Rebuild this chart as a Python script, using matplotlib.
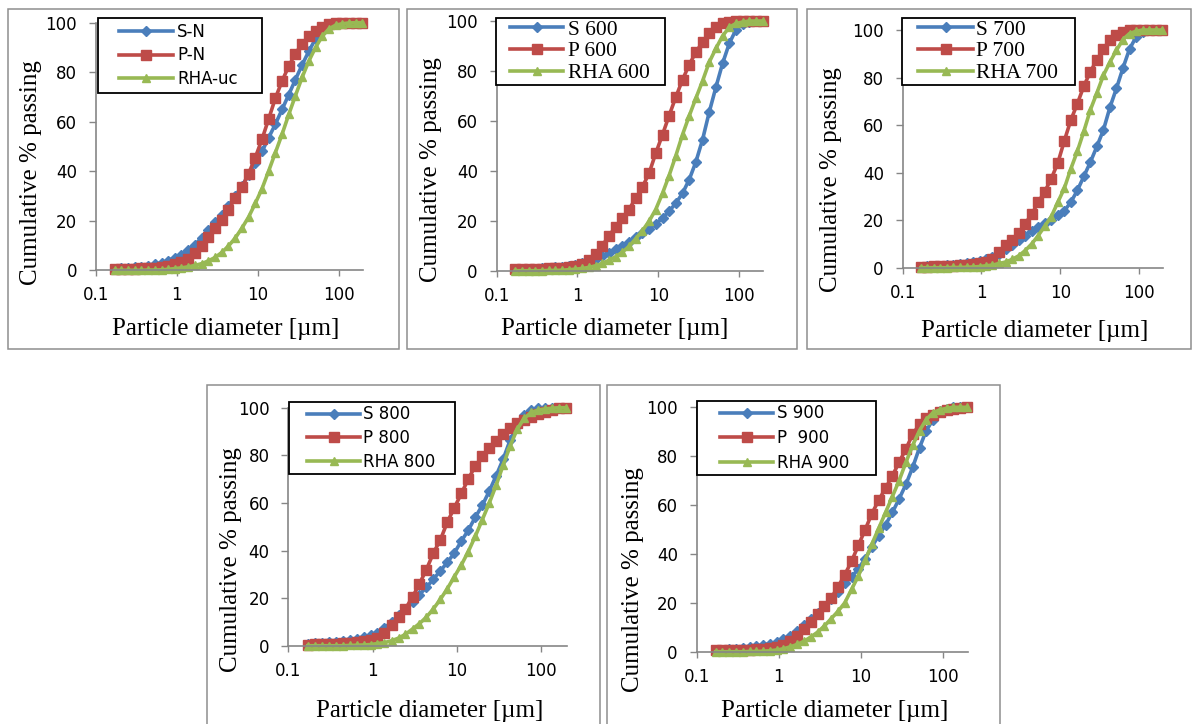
import numpy as np
import matplotlib
matplotlib.use("Agg")
import matplotlib.pyplot as plt
from matplotlib.patches import Rectangle
from matplotlib.legend_handler import HandlerLine2D
from matplotlib.ticker import NullLocator

# ------------------------------------------------------------------ data
diameter_um = [0.170, 0.206, 0.249, 0.301, 0.364, 0.441, 0.534, 0.646, 0.781, 0.945,
               1.14, 1.38, 1.68, 2.03, 2.45, 2.97, 3.59, 4.34, 5.26, 6.36,
               7.70, 9.31, 11.3, 13.6, 16.5, 20.0, 24.2, 29.2, 35.4, 42.8,
               51.8, 62.6, 75.8, 91.7, 111, 134, 163, 197]

s_n = [0.7, 0.8, 1.0, 1.2, 1.5, 1.9, 2.4, 3.0, 3.9, 5.1,
       6.3, 8.2, 10.4, 13.2, 16.2, 19.4, 22.3, 26.0, 30.0, 34.0,
       38.5, 43.2, 48.0, 53.5, 59.0, 65.0, 71.0, 77.0, 83.0, 88.5,
       93.5, 97.0, 98.9, 99.7, 100, 100, 100, 100]
p_n = [0.4, 0.5, 0.6, 0.7, 0.8, 0.9, 1.1, 1.4, 1.9, 2.6,
       3.4, 4.7, 7.0, 10.0, 13.5, 17.0, 20.5, 24.5, 29.0, 33.5,
       39.0, 45.5, 53.0, 61.0, 69.5, 76.5, 82.5, 87.5, 91.5, 94.5,
       96.5, 98.2, 99.3, 99.8, 100, 100, 100, 100]
rha_uc = [0, 0, 0, 0, 0, 0.1, 0.1, 0.2, 0.4, 0.7,
          1.0, 1.4, 2.0, 2.7, 3.8, 5.2, 7.2, 9.8, 13.0, 17.0,
          21.5, 27.0, 33.0, 40.0, 47.5, 55.0, 63.0, 70.5, 78.0, 84.5,
          90.0, 94.5, 97.5, 99.0, 99.6, 99.9, 100, 100]

s_600 = [0.5, 0.6, 0.7, 0.8, 0.9, 1.1, 1.3, 1.6, 2.0, 2.4,
         3.0, 3.7, 4.7, 5.9, 7.2, 8.6, 10.0, 11.6, 13.3, 15.0,
         16.8, 18.8, 21.0, 23.8, 27.0, 31.0, 36.5, 43.5, 52.5, 63.5,
         73.5, 83.0, 91.0, 96.5, 98.8, 99.6, 100, 100]
p_600 = [0.5, 0.6, 0.6, 0.7, 0.8, 0.9, 1.0, 1.2, 1.5, 2.0,
         2.8, 4.3, 6.5, 10.0, 14.0, 17.5, 21.0, 24.5, 29.0, 33.5,
         39.0, 47.0, 54.5, 62.0, 69.5, 76.5, 82.5, 87.5, 91.5, 95.0,
         97.5, 99.0, 99.7, 100, 100, 100, 100, 100]
rha_600 = [0, 0, 0, 0, 0, 0.1, 0.1, 0.2, 0.4, 0.6,
           0.9, 1.3, 2.0, 2.9, 4.2, 5.6, 7.4, 9.7, 12.8, 16.0,
           19.8, 24.5, 31.0, 38.0, 46.0, 54.5, 62.0, 69.0, 76.0, 83.5,
           89.0, 94.0, 97.5, 99.0, 99.6, 100, 100, 100]

s_700 = [0.5, 0.6, 0.7, 0.8, 1.0, 1.2, 1.5, 1.9, 2.3, 2.9,
         3.5, 4.6, 5.9, 7.9, 9.5, 11.5, 13.5, 15.5, 17.0, 18.7,
         20.2, 22.0, 24.0, 27.5, 32.5, 38.5, 44.5, 51.0, 58.0, 67.5,
         75.5, 84.0, 92.0, 97.0, 99.3, 100, 100, 100]
p_700 = [0.4, 0.5, 0.6, 0.7, 0.8, 0.9, 1.0, 1.2, 1.5, 1.9,
         2.5, 3.8, 6.5, 9.5, 11.8, 14.5, 18.5, 22.5, 27.5, 32.0,
         37.5, 44.0, 53.5, 62.0, 69.0, 76.5, 82.5, 87.5, 92.0, 95.8,
         98.0, 99.3, 99.8, 100, 100, 100, 100, 100]
rha_700 = [0, 0, 0, 0, 0, 0.1, 0.1, 0.2, 0.3, 0.5,
           0.8, 1.1, 1.8, 2.4, 3.5, 5.0, 7.2, 10.0, 13.5, 17.5,
           21.5, 27.5, 33.5, 41.5, 49.0, 57.5, 66.5, 73.5, 81.0, 86.5,
           91.5, 96.0, 98.5, 99.5, 100, 100, 100, 100]

s_800 = [0.8, 1.0, 1.2, 1.4, 1.7, 2.0, 2.4, 3.0, 3.6, 4.4,
         5.5, 7.5, 10.0, 12.8, 15.5, 18.5, 21.5, 24.5, 28.0, 31.5,
         35.0, 39.0, 44.0, 48.5, 54.0, 59.0, 65.0, 71.5, 78.5, 86.5,
         92.5, 97.0, 99.2, 99.8, 100, 100, 100, 100]
p_800 = [0.5, 0.6, 0.7, 0.8, 0.9, 1.0, 1.2, 1.5, 1.9, 2.5,
         3.3, 5.5, 8.5, 12.0, 15.5, 20.5, 26.0, 32.0, 39.0, 44.5,
         52.0, 58.0, 64.0, 70.0, 75.5, 79.5, 83.0, 86.0, 89.0, 91.5,
         93.5, 95.0, 96.2, 97.4, 98.4, 99.2, 99.7, 100]
rha_800 = [0, 0, 0, 0, 0, 0, 0.1, 0.2, 0.3, 0.5,
           0.9, 1.3, 2.1, 3.2, 4.8, 7.0, 9.3, 12.0, 15.5, 19.5,
           24.0, 29.0, 34.0, 39.5, 46.0, 53.0, 60.0, 67.5, 76.0, 84.0,
           91.0, 95.5, 98.0, 99.0, 99.5, 99.8, 100, 100]

s_900 = [0.7, 0.8, 1.0, 1.2, 1.5, 1.8, 2.2, 2.7, 3.3, 4.0,
         5.0, 6.5, 8.5, 11.0, 13.5, 16.0, 18.8, 21.5, 24.5, 28.0,
         30.5, 34.0, 38.0, 43.0, 47.5, 52.0, 57.0, 62.5, 68.5, 75.5,
         83.5, 90.5, 95.0, 98.3, 99.5, 100, 100, 100]
p_900 = [0.5, 0.6, 0.6, 0.7, 0.8, 0.9, 1.0, 1.2, 1.5, 1.9,
         2.6, 4.2, 6.5, 9.3, 12.2, 15.5, 18.5, 22.0, 26.5, 31.5,
         37.0, 43.5, 50.0, 56.5, 62.0, 67.0, 72.0, 77.5, 83.0, 89.0,
         93.0, 95.5, 97.0, 98.2, 99.0, 99.5, 99.8, 100]
rha_900 = [0, 0, 0, 0, 0, 0.1, 0.1, 0.2, 0.4, 0.7,
           1.2, 2.0, 3.0, 4.3, 6.0, 8.0, 10.5, 13.5, 16.5, 20.0,
           25.5, 31.0, 37.5, 44.0, 50.5, 57.0, 63.5, 70.0, 77.5, 84.5,
           90.5, 95.0, 97.8, 99.0, 99.6, 100, 100, 100]

x_ticks = [0.1, 1, 10, 100]
x_tick_labels = ["0.1", "1", "10", "100"]
y_ticks = [0, 20, 40, 60, 80, 100]
x_label = "Particle diameter [µm]"
y_label = "Cumulative % passing"

# ------------------------------------------------------------------ layout
W, H = 1194, 724
fig = plt.figure(figsize=(W / 100, H / 100), dpi=100)
fig.patch.set_facecolor("white")


def fx(px):
    return px / W


def fy(py):
    return 1 - py / H


BLUE, RED, GREEN = "#4A7EBB", "#BE4B48", "#98B954"
AXIS_GRAY = "#868686"
FRAME_GRAY = "#8E8E8E"
SERIF = "Liberation Serif"
SANS = "DejaVu Sans"
styles = [(BLUE, "D", 4.6), (RED, "s", 6.6), (GREEN, "^", 6.3)]
LINE_W = 2.6


class OffsetLineHandler(HandlerLine2D):
    """Legend line that starts a little to the right of the handle box."""

    def __init__(self, lpad_pt, **kw):
        super().__init__(**kw)
        self.lpad_pt = lpad_pt

    def get_xdata(self, legend, xdescent, ydescent, width, height, fontsize):
        x0 = -xdescent + self.lpad_pt
        x1 = -xdescent + width
        return np.array([x0, x1]), np.array([0.5 * (x0 + x1)])


panels = [
    dict(frame=(8, 9, 399, 349), axes=(96, 22.7, 363, 270.3),
         series=[("S-N", s_n), ("P-N", p_n), ("RHA-uc", rha_uc)],
         leg=(98, 18, 262), font=(SANS, 12), bp=0.29, ls=0.34, lpad=16.2, hl=4.21, htp=0.24,
         ylab=(37, 173), xlab=(225.5, 335)),
    dict(frame=(407, 9, 797, 349), axes=(496.7, 21, 763.3, 270.7),
         series=[("S 600", s_600), ("P 600", p_600), ("RHA 600", rha_600)],
         leg=(496, 18, 665), font=(SERIF, 15.5), bp=0.07, ls=0.08, lpad=12.5, hl=3.05, htp=0.24,
         ylab=(437, 170), xlab=(615, 335)),
    dict(frame=(807, 9, 1191, 349), axes=(902.7, 30, 1162.7, 267.7),
         series=[("S 700", s_700), ("P 700", p_700), ("RHA 700", rha_700)],
         leg=(902, 18, 1075), font=(SERIF, 15.5), bp=0.07, ls=0.08, lpad=14.5, hl=3.23, htp=0.15,
         ylab=(837, 179.5), xlab=(1035, 337)),
    dict(frame=(207, 385, 600, 760), axes=(288.3, 407.7, 566.7, 645.7),
         series=[("S 800", s_800), ("P 800", p_800), ("RHA 800", rha_800)],
         leg=(289, 402, 455), font=(SANS, 12), bp=0.2, ls=0.34, lpad=14.7, hl=4.06, htp=0.18,
         ylab=(237, 560), xlab=(430, 717)),
    dict(frame=(607, 385, 1000, 760), axes=(696.7, 407.3, 967.7, 651.7),
         series=[("S 900", s_900), ("P  900", p_900), ("RHA 900", rha_900)],
         leg=(697, 401, 876), font=(SANS, 12), bp=0.2, ls=0.4, lpad=19.7, hl=4.36, htp=0.24,
         ylab=(639, 580), xlab=(835, 717)),
]

for p in panels:
    # panel frame
    fx0, fy0, fx1, fy1 = p["frame"]
    fig.patches.append(Rectangle((fx(fx0), fy(fy1)), (fx1 - fx0) / W, (fy1 - fy0) / H,
                                 transform=fig.transFigure, fill=False,
                                 edgecolor=FRAME_GRAY, linewidth=1.1))

    x0, y0, x1, y1 = p["axes"]
    ax = fig.add_axes([fx(x0), fy(y1), (x1 - x0) / W, (y1 - y0) / H])
    ax.patch.set_alpha(0)
    ax.set_xscale("log")
    ax.set_xlim(0.1, 200)
    ax.set_ylim(0, 100)

    handles, labels = [], []
    for (label, vals), (c, m, ms) in zip(p["series"], styles):
        ln, = ax.plot(diameter_um, vals, color=c, lw=LINE_W, marker=m, ms=ms,
                      mec=c, mfc=c, clip_on=False, label=label)
        handles.append(ln)
        labels.append(label)

    ax.set_xticks(x_ticks)
    ax.set_xticklabels(x_tick_labels)
    ax.xaxis.set_minor_locator(NullLocator())
    ax.set_yticks(y_ticks)
    for s in ["top", "right"]:
        ax.spines[s].set_visible(False)
    for s in ["left", "bottom"]:
        ax.spines[s].set_color(AXIS_GRAY)
        ax.spines[s].set_linewidth(1.2)
    ax.tick_params(axis="y", direction="out", length=5, width=1, color=AXIS_GRAY,
                   labelsize=12, pad=8.6)
    ax.tick_params(axis="x", direction="out", length=4.5, width=1, color=AXIS_GRAY,
                   labelsize=12, pad=7)
    for t in ax.get_xticklabels() + ax.get_yticklabels():
        t.set_family(SANS)

    # legend
    lx0, ly0, lx1 = p["leg"]
    fam, size = p["font"]
    leg = ax.legend(handles, labels, loc="upper left",
                    bbox_to_anchor=(fx(lx0), fy(ly0) - 0.1, (lx1 - lx0) / W, 0.1),
                    bbox_transform=fig.transFigure, mode="expand", borderaxespad=0,
                    frameon=True, fancybox=False, framealpha=1, edgecolor="black",
                    prop=dict(family=fam, size=size), borderpad=p["bp"],
                    labelspacing=p["ls"], handlelength=p["hl"], handletextpad=p["htp"],
                    numpoints=1,
                    handler_map={h: OffsetLineHandler(p["lpad"] * 0.72) for h in handles})
    leg.get_frame().set_linewidth(1.3)

    # axis titles
    yx, yc = p["ylab"]
    fig.text(fx(yx), fy(yc), y_label, rotation=90, rotation_mode="anchor",
             ha="center", va="baseline", family=SERIF, size=18)
    xc, xb = p["xlab"]
    fig.text(fx(xc), fy(xb), x_label, ha="center", va="baseline", family=SERIF, size=18)

fig.savefig("out.png", dpi=100, facecolor="white")
